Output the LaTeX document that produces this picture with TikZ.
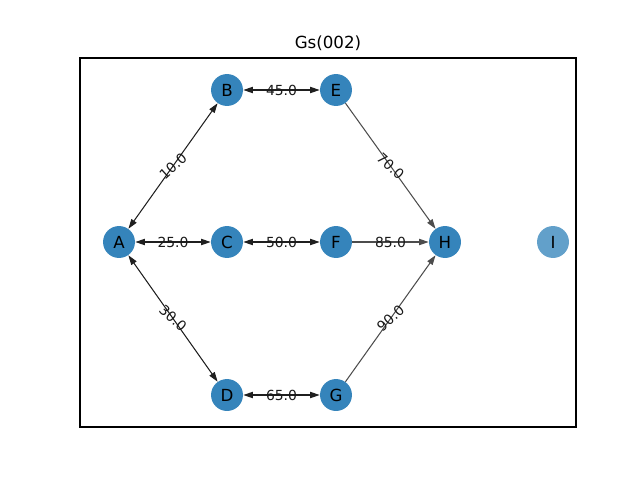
\documentclass[tikz,border=0pt]{standalone}
\usepackage{fontspec}
\setmainfont{DejaVu Sans}
\usetikzlibrary{arrows.meta}
\definecolor{nodeblue}{HTML}{1F77B4}
\begin{document}
\begin{tikzpicture}[x=0.72pt,y=-0.72pt,
  vtx/.style={circle,fill=nodeblue,fill opacity=0.9,text opacity=1,minimum size=23pt,inner sep=0pt,font=\fontsize{12}{14}\selectfont},
  vtxlight/.style={vtx,fill opacity=0.7},
  biedge/.style={draw=black!88,line width=0.75pt,{Triangle[length=7pt,width=4.5pt]}-{Triangle[length=7pt,width=4.5pt]}},
  diedge/.style={draw=black!70,line width=0.75pt,-{Triangle[length=7pt,width=4.5pt]}},
  elabel/.style={inner sep=0.5pt,font=\fontsize{10}{12}\selectfont,text=black!90}]
\useasboundingbox (0,0) rectangle (640,480);
\node[font=\fontsize{12}{14}\selectfont] (title) at (328,43) {Gs(002)};
\draw[line width=0.8pt] (80,58) rectangle (576,427);
\node[vtx] (A) at (119,242) {A};
\node[vtx] (B) at (227,90) {B};
\node[vtx] (C) at (227,242) {C};
\node[vtx] (D) at (227,395) {D};
\node[vtx] (E) at (336,90) {E};
\node[vtx] (F) at (336,242) {F};
\node[vtx] (G) at (336,395) {G};
\node[vtx] (H) at (445,242) {H};
\node[vtxlight] (I) at (553,242) {I};
\draw[biedge] (A) -- node[elabel,rotate=42] {10.0} (B);
\draw[biedge] (A) -- node[elabel] {25.0} (C);
\draw[biedge] (A) -- node[elabel,rotate=-42] {30.0} (D);
\draw[biedge] (B) -- node[elabel] {45.0} (E);
\draw[biedge] (C) -- node[elabel] {50.0} (F);
\draw[biedge] (D) -- node[elabel] {65.0} (G);
\draw[diedge] (E) -- node[elabel,rotate=-42] {70.0} (H);
\draw[diedge] (F) -- node[elabel] {85.0} (H);
\draw[diedge] (G) -- node[elabel,rotate=42] {90.0} (H);
\end{tikzpicture}
\end{document}
